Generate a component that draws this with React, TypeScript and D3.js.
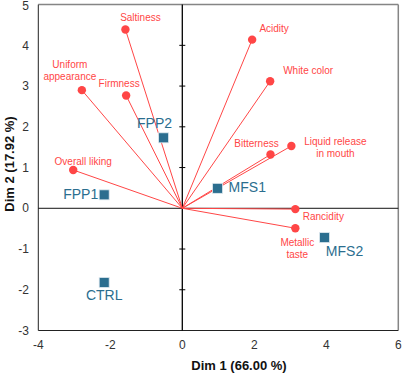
import React from "react";
import * as d3 from "d3";

const varNames = ["Saltiness", "Uniform appearance", "Firmness", "Overall liking", "Acidity", "White color", "Bitterness", "Liquid release in mouth", "Rancidity", "Metallic taste"];
const varX = [-1.58, -2.79, -1.56, -3.03, 1.94, 2.44, 2.45, 3.03, 3.14, 3.14];
const varY = [4.39, 2.90, 2.77, 0.94, 4.14, 3.12, 1.32, 1.53, -0.02, -0.49];
const varLines: string[][] = [["Saltiness"], ["Uniform", "appearance"], ["Firmness"], ["Overall liking"], ["Acidity"], ["White color"], ["Bitterness"], ["Liquid release", "in mouth"], ["Rancidity"], ["Metallic", "taste"]];

const sampleNames = ["FPP2", "FPP1", "CTRL", "MFS1", "MFS2"];
const sampleX = [-0.52, -2.17, -2.17, 0.98, 3.95];
const sampleY = [1.73, 0.33, -1.82, 0.49, -0.72];

const xTicks = [-4, -2, 0, 2, 4, 6];
const yTicks = [-3, -2, -1, 0, 1, 2, 3, 4, 5];

// label offsets (px) relative to point: [dx, dy, anchor]
const varLabelPos: [number, number, string][] = [
  [15, -8, "middle"], [-12, -22, "middle"], [-7, -8, "middle"], [10, -5, "middle"],
  [22, -8, "middle"], [38, -7, "middle"], [-14, -8, "middle"], [44, -1, "middle"],
  [28, 11, "middle"], [2, 18, "middle"],
];
const sampleLabelPos: [number, number, string][] = [
  [-9, -10, "middle"], [-6, 4, "end"], [0, 18, "middle"], [11, 4, "start"], [20, 18, "middle"],
];

const RED = "#FF4646";
const BLUE = "#2B6E8F";

export default function App() {
  const x = d3.scaleLinear().domain([-4, 6]).range([38.3, 398.3]);
  const y = d3.scaleLinear().domain([-3, 5]).range([330.5, 4.6]);
  const x0 = x(0), y0 = y(0);
  return (
    <svg width={403} height={378} style={{ position: "absolute", left: 0, top: 0, fontFamily: "Liberation Sans, Arial, sans-serif" }}>
      <rect x={0} y={0} width={403} height={378} fill="#fff" />
      {/* frame */}
      <line x1={x(-4)} x2={x(6)} y1={y(5)} y2={y(5)} stroke="#858585" strokeWidth={1.5} />
      <line x1={x(6)} x2={x(6)} y1={y(5)} y2={y(-3)} stroke="#858585" strokeWidth={1.5} />
      <line x1={x(-4)} x2={x(-4)} y1={y(5)} y2={y(-3)} stroke="#222" strokeWidth={1} />
      <line x1={x(-4)} x2={x(6)} y1={y(-3)} y2={y(-3)} stroke="#222" strokeWidth={1} />
      {/* zero lines */}
      <line x1={x(-4)} x2={x(6)} y1={y0} y2={y0} stroke="#111" strokeWidth={1} />
      <line x1={x0} x2={x0} y1={y(5)} y2={y(-3)} stroke="#000" strokeWidth={1.3} />
      {yTicks.filter(t => t !== 0 && t !== 5 && t !== -3).map(t => (
        <line key={t} x1={x0 - 3} x2={x0 + 3} y1={y(t)} y2={y(t)} stroke="#000" strokeWidth={1} />
      ))}
      {/* tick labels */}
      {yTicks.map(t => (
        <text key={t} x={29} y={Math.max(y(t), 5.5)} dy="0.35em" textAnchor="end" fontSize={12} fill="#333">{t < 0 ? "-" + Math.abs(t) : t}</text>
      ))}
      {xTicks.map(t => (
        <text key={t} x={x(t)} y={349} textAnchor="middle" fontSize={12} fill="#333">{t < 0 ? "-" + Math.abs(t) : t}</text>
      ))}
      {/* axis titles */}
      <text x={239} y={370} textAnchor="middle" fontSize={13} fontWeight="bold" fill="#111">Dim 1 (66.00 %)</text>
      <text transform={`translate(14,${164}) rotate(-90)`} textAnchor="middle" fontSize={13} fontWeight="bold" fill="#111">Dim 2 (17.92 %)</text>
      {/* vectors */}
      {varNames.map((n, i) => (
        <line key={n} x1={x0} y1={y0} x2={x(varX[i])} y2={y(varY[i])} stroke={RED} strokeWidth={1} />
      ))}
      {varNames.map((n, i) => (
        <circle key={n} cx={x(varX[i])} cy={y(varY[i])} r={4.2} fill={RED} />
      ))}
      {varNames.map((n, i) => {
        const [dx, dy, anchor] = varLabelPos[i];
        const lines = varLines[i];
        const lx = x(varX[i]) + dx;
        const ly = y(varY[i]) + dy;
        return (
          <text key={n} x={lx} y={ly} textAnchor={anchor as any} fontSize={10} fill={RED}>
            {lines.map((l, j) => (
              <tspan key={j} x={lx} dy={j === 0 ? 0 : 12}>{l}</tspan>
            ))}
          </text>
        );
      })}
      {/* samples */}
      {sampleNames.map((n, i) => (
        <rect key={n} x={x(sampleX[i]) - 5} y={y(sampleY[i]) - 5} width={10} height={10} fill={BLUE} stroke="#dfe9ef" strokeWidth={0.8} />
      ))}
      {sampleNames.map((n, i) => {
        const [dx, dy, anchor] = sampleLabelPos[i];
        return (
          <text key={n} x={x(sampleX[i]) + dx} y={y(sampleY[i]) + dy} textAnchor={anchor as any} fontSize={14} fill={BLUE}>{n}</text>
        );
      })}
    </svg>
  );
}
